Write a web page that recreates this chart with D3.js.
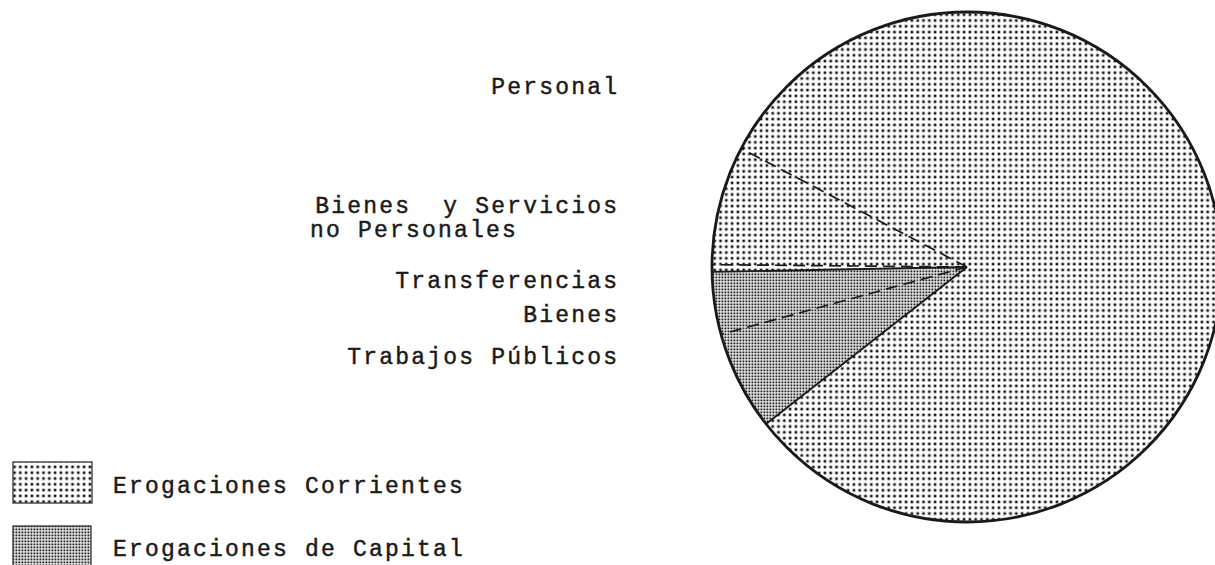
<!DOCTYPE html>
<html>
<head>
<meta charset="utf-8">
<script src="https://cdn.jsdelivr.net/npm/d3@7"></script>
<style>
  html, body { margin: 0; padding: 0; background: #fff; }
  svg { display: block; }
  text { font-family: "Liberation Mono", "DejaVu Sans Mono", monospace; fill: #1a1a1a; stroke: #1a1a1a; stroke-width: 0.45px; white-space: pre; }
</style>
</head>
<body>
<svg id="chart" width="1215" height="565"></svg>
<script>
// ---- data (percent of total) ----
const categories = ["Personal", "Trabajos Públicos", "Bienes", "Transferencias", "Bienes  y Servicios\nno Personales"];
const values     = [81.75, 6.3, 3.95, 0.45, 7.55];
const groups     = ["corr", "cap", "cap", "corr", "corr"];
const groupNames = ["Erogaciones Corrientes", "Erogaciones de Capital"];
const groupKeys  = ["corr", "cap"];
// label lines as printed, top to bottom
const labelLines = ["Personal", "Bienes  y Servicios", "no Personales", "Transferencias", "Bienes", "Trabajos Públicos"];
const labelAlign = ["end", "end", "start", "end", "end", "end"];
const labelY     = [94, 213, 237, 288, 322, 364];

const svg = d3.select("#chart");
const cx = 967, cy = 267, R = 255;
const startDeg = 297.7;

// patterns
const defs = svg.append("defs");
const pCorr = defs.append("pattern").attr("id", "pat-corr")
  .attr("patternUnits", "userSpaceOnUse").attr("width", 5.8).attr("height", 5.8);
pCorr.append("rect").attr("width", 5.8).attr("height", 5.8).attr("fill", "#fff");
pCorr.append("rect").attr("x", 1.6).attr("y", 1.6).attr("width", 2.6).attr("height", 2.6).attr("fill", "#111");

const pCap = defs.append("pattern").attr("id", "pat-cap")
  .attr("patternUnits", "userSpaceOnUse").attr("width", 3).attr("height", 3);
pCap.append("rect").attr("width", 3).attr("height", 3).attr("fill", "#eee");
pCap.append("rect").attr("x", 0.5).attr("y", 0.5).attr("width", 1.8).attr("height", 1.8).attr("fill", "#1a1a1a");

const fillOf = d3.scaleOrdinal().domain(groupKeys).range(["url(#pat-corr)", "url(#pat-cap)"]);

// pie
const pie = d3.pie().sort(null).value(d => d.v)
  .startAngle(startDeg * Math.PI / 180)
  .endAngle(startDeg * Math.PI / 180 + 2 * Math.PI);
const arcs = pie(categories.map((c, i) => ({ c, v: values[i], g: groups[i] })));
const arc = d3.arc().innerRadius(0).outerRadius(R);

const g = svg.append("g").attr("transform", `translate(${cx},${cy})`);
g.selectAll("path.slice").data(arcs).join("path")
  .attr("class", "slice")
  .attr("d", arc)
  .attr("fill", d => fillOf(d.data.g))
  .attr("stroke", "none");

// boundary lines: solid between groups, dashed inside a group
const samePrev = i => arcs[(i - 1 + arcs.length) % arcs.length].data.g === arcs[i].data.g;
g.selectAll("line.bnd").data(arcs).join("line")
  .attr("class", "bnd")
  .attr("x1", 0).attr("y1", 0)
  .attr("x2", d => R * Math.sin(d.startAngle))
  .attr("y2", d => -R * Math.cos(d.startAngle))
  .attr("stroke", "#1a1a1a")
  .attr("stroke-width", (d, i) => samePrev(i) ? 1.7 : 1.9)
  .attr("stroke-dasharray", (d, i) => samePrev(i) ? "12,6" : null);

g.append("circle").attr("r", R).attr("fill", "none")
  .attr("stroke", "#1a1a1a").attr("stroke-width", 2.8);

// labels
const FS = 23, LS = 2.2;
svg.append("g").selectAll("text").data(labelLines).join("text")
  .attr("x", (d, i) => labelAlign[i] === "end" ? 617 + LS : 310)
  .attr("y", (d, i) => labelY[i])
  .attr("text-anchor", (d, i) => labelAlign[i])
  .attr("font-size", FS)
  .attr("letter-spacing", LS)
  .text(d => d);

// legend
const leg = svg.append("g");
const legBox = [{ x: 13, y: 462, w: 79, h: 41 }, { x: 13, y: 526, w: 78, h: 40 }];
const legTextY = [493, 556];
groupKeys.forEach((k, i) => {
  leg.append("rect")
    .attr("x", legBox[i].x).attr("y", legBox[i].y)
    .attr("width", legBox[i].w).attr("height", legBox[i].h)
    .attr("fill", fillOf(k))
    .attr("stroke", "#333").attr("stroke-width", 1.3);
  leg.append("text")
    .attr("x", 113).attr("y", legTextY[i])
    .attr("font-size", FS).attr("letter-spacing", LS)
    .text(groupNames[i]);
});
</script>
</body>
</html>
